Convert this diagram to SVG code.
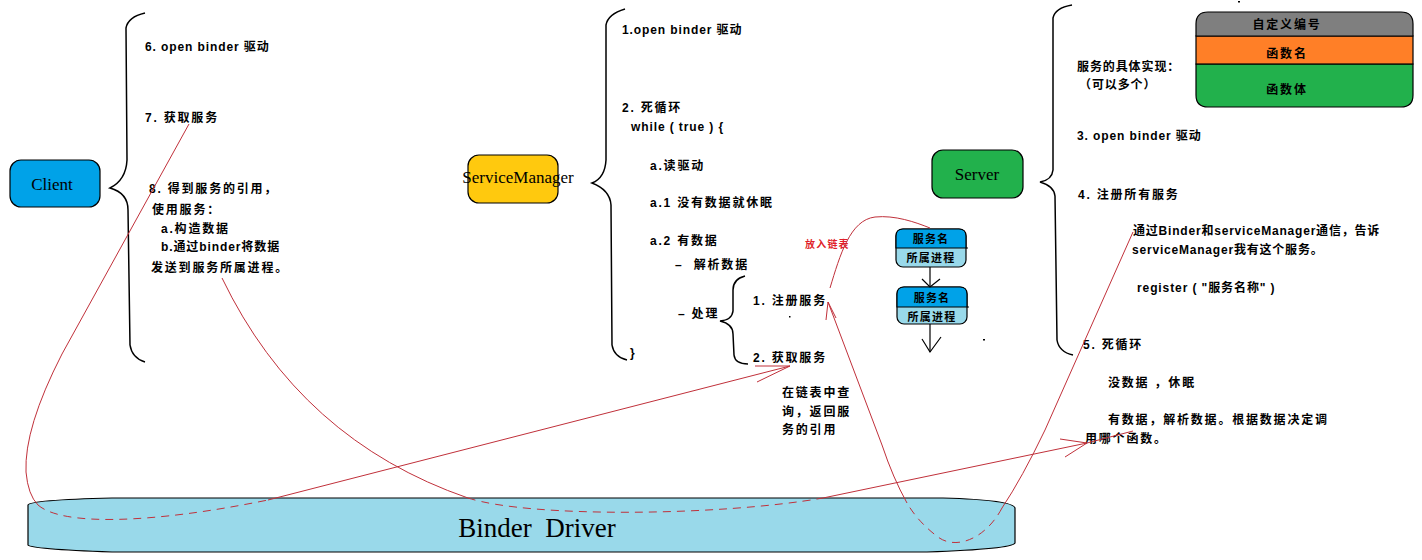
<svg xmlns="http://www.w3.org/2000/svg" width="1422" height="560" viewBox="0 0 1422 560">
<style>
.t{font-family:"Liberation Sans","Noto Sans CJK SC",sans-serif;font-weight:bold;font-size:12px;letter-spacing:1.8px;fill:#000}
.l{letter-spacing:0.9px}
.s{font-size:11px;letter-spacing:1.2px}
.c{text-anchor:middle}
.nl{font-family:"Liberation Serif","Noto Serif",serif;font-size:17px;fill:#000;text-anchor:middle}
.br{fill:none;stroke:#000;stroke-width:1.5}
.box{stroke:#000;stroke-width:1.2}
.red{fill:none;stroke:#c0303a;stroke-width:1}
.dash{stroke-dasharray:8 6}
.ar{fill:none;stroke:#000;stroke-width:1.2}
</style>
<rect width="1422" height="560" fill="#fff"/>

<g id="binder-driver">
<path class="box" fill="#99d9ea" d="M112,498 L943,498 Q1013,500 1015,508 L1015,543 Q1012,549 927,552 L112,552 Q30,549 28,545 L28,505 Q30,500 112,498 Z"/>
<text x="537" y="537" font-family="'Liberation Serif',serif" font-size="27" text-anchor="middle" xml:space="preserve">Binder  Driver</text>
</g>

<g id="client">
<rect class="box" x="10" y="160" width="90" height="47" rx="11" fill="#00a2e8"/>
<text class="nl" x="52" y="190">Client</text>
</g>

<g id="service-manager">
<rect class="box" x="468" y="155" width="90" height="48" rx="11" fill="#ffc90e"/>
<text class="nl" x="518" y="183">ServiceManager</text>
</g>

<g id="server">
<rect class="box" x="932" y="150" width="91" height="48" rx="11" fill="#22b14c"/>
<text class="nl" x="977" y="180">Server</text>
</g>

<g id="function-table">
<path fill="#22b14c" stroke="#000" stroke-width="1.2" d="M1196,64 L1413,64 L1413,95 Q1413,107 1401,107 L1208,107 Q1196,107 1196,95 Z"/>
<rect x="1196" y="36" width="217" height="28" fill="#ff7f27" stroke="#000" stroke-width="1.2"/>
<path fill="#7f7f7f" stroke="#000" stroke-width="1.2" d="M1196,36 L1196,24 Q1196,12 1208,12 L1401,12 Q1413,12 1413,24 L1413,36 Z"/>
<text class="t c" x="1287" y="29">自定义编号</text>
<text class="t c" x="1287" y="58">函数名</text>
<text class="t c" x="1287" y="94">函数体</text>
</g>

<g id="list-item-1">
<rect class="box" x="896" y="229" width="70" height="38" rx="7" fill="#99d9ea"/>
<path fill="#00a2e8" stroke="#000" stroke-width="1.2" d="M896,248 L896,236 Q896,229 903,229 L959,229 Q966,229 966,236 L966,248 Z"/>
<line x1="966" y1="248" x2="968" y2="248" stroke="#000"/>
<text class="t s c" x="931" y="243">服务名</text>
<text class="t s c" x="931" y="262">所属进程</text>
</g>
<g id="list-item-2">
<rect class="box" x="897" y="287" width="70" height="37" rx="7" fill="#99d9ea"/>
<path fill="#00a2e8" stroke="#000" stroke-width="1.2" d="M897,307 L897,294 Q897,287 904,287 L960,287 Q967,287 967,294 L967,307 Z"/>
<line x1="967" y1="307" x2="969" y2="307" stroke="#000"/>
<text class="t s c" x="932" y="302">服务名</text>
<text class="t s c" x="932" y="321">所属进程</text>
</g>

<g id="braces">
<path class="br" d="M145,13 Q128,17 126,28 L127,160 Q126,180 110,188 Q128,193 128,210 L130,345 Q132,358 145,362"/>
<path class="br" d="M625,9 Q608,14 606,25 L606,160 Q605,178 592,183 Q610,190 611,205 L612,345 Q614,357 627,360"/>
<path class="br" d="M745,276 Q733,279 733,290 L733,311 Q732,320 720,321 Q733,324 733,334 L734,355 Q735,364 748,364"/>
<path class="br" d="M1072,5 Q1055,8 1053,18 L1053,170 Q1052,180 1040,182 Q1054,186 1055,196 L1057,340 Q1059,352 1073,355"/>
</g>

<g id="client-text">
<text class="t l" x="145" y="51">6. open binder 驱动</text>
<text class="t" x="145" y="122">7. 获取服务</text>
<text class="t" x="149" y="193">8. 得到服务的引用，</text>
<text class="t" x="152" y="214">使用服务：</text>
<text class="t" x="161" y="233">a.构造数据</text>
<text class="t l" x="161" y="251">b.通过binder将数据</text>
<text class="t" x="151" y="272">发送到服务所属进程。</text>
</g>

<g id="sm-text">
<text class="t l" x="622" y="34">1.open binder 驱动</text>
<text class="t" x="622" y="112">2. 死循环</text>
<text class="t l" x="631" y="131" xml:space="preserve">while ( true ) {</text>
<text class="t" x="650" y="170">a.读驱动</text>
<text class="t" x="650" y="207">a.1 没有数据就休眠</text>
<text class="t" x="650" y="245">a.2 有数据</text>
<text class="t" x="675" y="269" xml:space="preserve">–  解析数据</text>
<text class="t" x="678" y="318">– 处理</text>
<text class="t" x="630" y="357">}</text>
<text class="t" x="753" y="305">1. 注册服务</text>
<text class="t" x="753" y="362">2. 获取服务</text>
<text class="t" x="782" y="397">在链表中查</text>
<text class="t" x="782" y="416">询，返回服</text>
<text class="t" x="782" y="434">务的引用</text>
<text class="t" x="805" y="248" style="fill:#e01e2a;font-size:10px;letter-spacing:1.2px">放入链表</text>
</g>

<g id="server-text">
<text class="t l" x="1077" y="71">服务的具体实现：</text>
<text class="t l" x="1079" y="89">（可以多个）</text>
<text class="t l" x="1077" y="140">3. open binder 驱动</text>
<text class="t" x="1078" y="199">4. 注册所有服务</text>
<text class="t" x="1133" y="235" style="letter-spacing:0.8px">通过Binder和serviceManager通信，告诉</text>
<text class="t" x="1132" y="254" style="letter-spacing:0.8px">serviceManager我有这个服务。</text>
<text class="t l" x="1137" y="292" xml:space="preserve">register ( "服务名称" )</text>
<text class="t" x="1083" y="349">5. 死循环</text>
<text class="t" x="1108" y="387" xml:space="preserve">没数据 ，休眠</text>
<text class="t" x="1108" y="424">有数据，解析数据。根据数据决定调</text>
<text class="t" x="1085" y="443">用哪个函数。</text>
</g>

<g id="connectors">
<line class="ar" x1="930" y1="267" x2="930" y2="287"/>
<polyline class="ar" points="922,279 930,287 940,279"/>
<line class="ar" x1="930" y1="324" x2="930" y2="352"/>
<polyline class="ar" points="922,339 930,352 941,337"/>

<path class="red" d="M189,124 L62,354 Q24,428 26,472 Q28,495 38,505"/>
<path class="red dash" d="M38,505 C62,526 150,524 268,500"/>
<path class="red" d="M268,500 L790,366"/>
<polyline class="red" points="755,366 790,366 757,382"/>

<path class="red" d="M222,278 Q300,440 468,498"/>
<path class="red dash" d="M468,498 C530,518 720,516 823,498"/>
<path class="red" d="M823,498 L1087,443 L1133,431"/>
<polyline class="red" points="1060,439 1087,443 1065,457"/>

<path class="red" d="M1133,232 L1045,430 Q1022,478 1002,508"/>
<path class="red dash" d="M1002,508 C985,540 955,550 938,537 Q918,522 907,503"/>
<path class="red" d="M907,503 Q893,478 882,445 L828,302"/>
<polyline class="red" points="826,320 828,302 836,318"/>

<path class="red" d="M830,288 C840,255 850,220 875,217 C895,215 915,222 930,228"/>
</g>

<g id="dots" fill="#000">
<rect x="789" y="316" width="1.5" height="1.5"/>
<rect x="983" y="339" width="2" height="1.5"/>
<rect x="1238" y="1" width="2" height="1.5"/>
</g>
</svg>
